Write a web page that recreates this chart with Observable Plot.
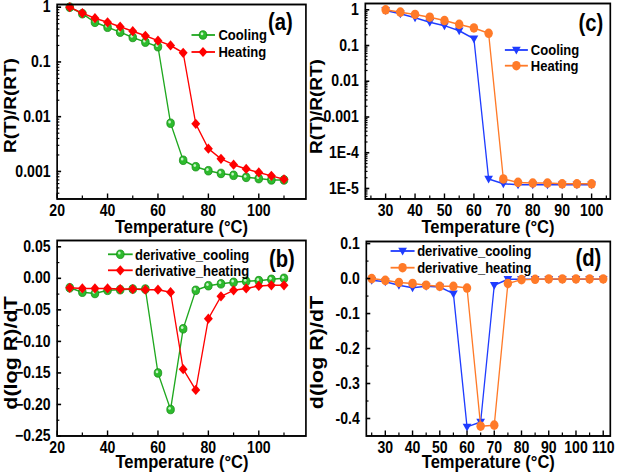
<!DOCTYPE html>
<html><head><meta charset="utf-8">
<script src="https://cdn.jsdelivr.net/npm/d3@7"></script>
<script src="https://cdn.jsdelivr.net/npm/@observablehq/plot@0.6"></script>
<style>
html,body{margin:0;padding:0;background:#fff;overflow:hidden;}
#wrap{position:relative;height:476px;transform-origin:0 0;}
.panel{position:absolute;}
</style></head><body><div id="wrap"></div>
<script>
// ---------- data ----------
const tempAB = [25,30,35,40,45,50,55,60,65,70,75,80,85,90,95,100,105,110];
const coolingA = [1.0,0.76,0.53,0.43,0.35,0.28,0.23,0.19,0.0076,0.0016,0.00122,0.00103,0.00092,0.00085,0.00078,0.00074,0.0007,0.0007];
const heatingA = [1.0,0.78,0.63,0.53,0.44,0.365,0.30,0.245,0.2,0.147,0.0074,0.0026,0.0017,0.00133,0.00111,0.00096,0.00083,0.00072];

const tempC = [30,35,40,45,50,55,60,65,70,75,80,85,90,95,100];
const coolingC = [0.95,0.77,0.6,0.45,0.36,0.26,0.155,1.85e-5,1.35e-5,1.28e-5,1.28e-5,1.28e-5,1.28e-5,1.28e-5,1.28e-5];
const heatingC = [1.0,0.86,0.74,0.62,0.5,0.39,0.31,0.22,1.85e-5,1.48e-5,1.42e-5,1.42e-5,1.35e-5,1.35e-5,1.35e-5];

const derivCoolingB = [-0.015,-0.022,-0.024,-0.019,-0.018,-0.017,-0.017,-0.150,-0.208,-0.080,-0.019,-0.0117,-0.0087,-0.0063,-0.0048,-0.0037,-0.0016,0.0];
const derivHeatingB = [-0.015,-0.016,-0.016,-0.016,-0.017,-0.017,-0.018,-0.018,-0.022,-0.144,-0.177,-0.064,-0.0286,-0.019,-0.016,-0.012,-0.011,-0.011];

const tempD = [25,30,35,40,45,50,55,60,65,70,75,80,85,90,95,100,105,110];
const derivCoolingD = [-0.005,-0.009,-0.019,-0.026,-0.022,-0.024,-0.043,-0.424,-0.41,-0.019,-0.002,-0.002,-0.002,-0.002,-0.002,-0.002,-0.002,-0.002];
const derivHeatingD = [0,-0.005,-0.011,-0.014,-0.019,-0.022,-0.022,-0.027,-0.422,-0.419,-0.014,-0.003,-0.002,-0.001,-0.001,-0.001,-0.001,-0.001];

// ---------- ticks ----------
const xTicksAB = [20,40,60,80,100];
const xMinorAB = [30,50,70,90,110];
const yTicksA = [1,0.1,0.01,0.001];
const yLabelsA = ["1","0.1","0.01","0.001"];
const yTicksB = [0.05,0,-0.05,-0.1,-0.15,-0.2,-0.25];
const yLabelsB = ["0.05","0.00","\u22120.05","\u22120.10","\u22120.15","\u22120.20","\u22120.25"];
const yMinorB = [0.025,-0.025,-0.075,-0.125,-0.175,-0.225];
const xTicksC = [30,40,50,60,70,80,90,100];
const xMinorC = [25,35,45,55,65,75,85,95,105];
const yTicksC = [1,0.1,0.01,0.001,1e-4,1e-5];
const yLabelsC = ["1","0.1","0.01","0.001","1E-4","1E-5"];
const xTicksD = [30,40,50,60,70,80,90,100,110];
const xMinorD = [25,35,45,55,65,75,85,95,105];
const yTicksD = [0.1,0,-0.1,-0.2,-0.3,-0.4];
const yLabelsD = ["0.1","0.0","-0.1","-0.2","-0.3","-0.4"];
const yMinorD = [0.05,-0.05,-0.15,-0.25,-0.35];

// ---------- styling ----------
const S = 0.88; // horizontal squeeze of the original figure
const FONT = "'Liberation Sans', Arial, sans-serif";
const GREEN = "#1fa81f", GREEN_FILL = "#2dbb2d", RED = "#ff0000", BLUE = "#1f3cff", ORANGE = "#ff7a28";
const triangleDown = {draw(ctx, size){ const r = Math.sqrt(size/Math.PI); ctx.moveTo(-1.15*r,-0.75*r); ctx.lineTo(1.15*r,-0.75*r); ctx.lineTo(0,1.05*r); ctx.closePath(); }};

function logMinor(lo, hi){
  const out = [];
  for (let k = Math.floor(Math.log10(lo)); k <= Math.ceil(Math.log10(hi)); k++)
    for (let m = 2; m <= 9; m++){ const v = m*Math.pow(10,k); if (v > lo && v < hi) out.push(v); }
  return out;
}

const wrap = document.getElementById("wrap");
wrap.style.width = (618/S) + "px";
wrap.style.transform = `scaleX(${S})`;

function panel(cfg){
  const [bx, by, bw, bh] = cfg.box;
  const [fl, fr, ft, fb] = cfg.frame;
  const ml = (fl-bx)/S, mr = (bx+bw-fr)/S, mt = ft-by, mb = by+bh-fb;
  const seriesMarks = [];
  cfg.series.forEach(s => {
    const rows = cfg.temps.map((t,i) => ({t, v: s.values[i]}));
    seriesMarks.push(Plot.line(rows, {x:"t", y:"v", stroke:s.color, strokeWidth:1.5}));
    seriesMarks.push(Plot.dot(rows, {x:"t", y:"v", symbol:s.symbol, r:s.r, fill:s.fill, stroke:s.stroke, strokeWidth:0.8}));
    if (s.highlight) seriesMarks.push(Plot.dot(rows, {x:"t", y:"v", r:1.5, fill:s.highlight, dx:-1.1, dy:-1.2}));
  });
  const txt = {fontWeight:"bold", fontFamily:FONT, textAnchor:"middle", lineAnchor:"middle"};
  const axTxt = {fontWeight:"bold", fontFamily:FONT};
  const marks = [
    ...seriesMarks,
    Plot.axisX({ticks:cfg.xTicks, tickSize:-5, tickPadding:11, tickFormat:d=>String(d), label:null, fontSize:16, ...axTxt, strokeWidth:1.6}),
    Plot.axisX({ticks:cfg.xMinor, tickSize:-3, tickFormat:()=>"", label:null, strokeWidth:1.4}),
    Plot.axisY({ticks:cfg.yTicks, tickSize:-5, tickPadding:12.5, tickFormat:d=>cfg.yLabels[cfg.yTicks.indexOf(d)], label:null, fontSize:16, ...axTxt, strokeWidth:1.6}),
    Plot.axisY({ticks:cfg.yMinor, tickSize:-3, tickFormat:()=>"", label:null, strokeWidth:1.2}),
    Plot.frame({stroke:"#000", strokeWidth:1.9}),
    Plot.text([cfg.xTitle], {text:d=>d, frameAnchor:"bottom", dx:(cfg.xTitlePos[0]-(fl+fr)/2)/S, dy:cfg.xTitlePos[1]-fb, fontSize:18.8, ...txt}),
    Plot.text([cfg.yTitle], {text:d=>d, frameAnchor:"left", dx:(cfg.yTitlePos[0]-fl)/S, dy:cfg.yTitlePos[1]-(ft+fb)/2, rotate:-90, fontSize:cfg.yTitleSize, ...txt}),
    Plot.text([cfg.tag], {text:d=>d, frameAnchor:"top-right", dx:(cfg.tagPos[0]-fr)/S, dy:cfg.tagPos[1]-ft, fontSize:23, ...txt})
  ];
  const chart = Plot.plot({
    width: bw/S, height: bh,
    marginLeft: ml, marginRight: mr, marginTop: mt, marginBottom: mb,
    x: {domain: cfg.xDomain},
    y: {type: cfg.yType, domain: cfg.yDomain},
    style: {fontFamily: FONT, background: "transparent", overflow: "visible", color: "#000"},
    marks
  });
  // legend
  const svg = d3.select(chart);
  const L = cfg.legend;
  cfg.series.forEach((s, i) => {
    const y = L.rows[i] - by;
    const g = svg.append("g");
    g.append("line").attr("x1",(L.x1-bx)/S).attr("x2",(L.x2-bx)/S).attr("y1",y).attr("y2",y)
      .attr("stroke",s.color).attr("stroke-width",1.8);
    g.append("path").attr("d", d3.symbol(s.symbol==="circle"?d3.symbolCircle:(s.symbol==="diamond2"?d3.symbolDiamond2:s.symbol), Math.PI*s.r*s.r)())
      .attr("transform",`translate(${(L.sx-bx)/S},${y})`).attr("fill",s.fill).attr("stroke",s.stroke||"none").attr("stroke-width",0.8);
    if (s.highlight) g.append("circle").attr("cx",(L.sx-bx)/S-1.1).attr("cy",y-1.2).attr("r",1.5).attr("fill",s.highlight);
    g.append("text").attr("x",(L.tx-bx)/S).attr("y",y).attr("dy","0.36em").attr("font-size",14.8)
      .attr("text-anchor","start")
      .attr("font-weight","bold").attr("font-family",FONT).attr("fill","#000").text(s.name);
  });
  const div = document.createElement("div");
  div.className = "panel";
  div.style.left = (bx/S) + "px"; div.style.top = by + "px";
  div.appendChild(chart);
  wrap.appendChild(div);
}

const minorA = logMinor(3.14e-4, 1.12);
const minorC = logMinor(5.08e-6, 1.5);

panel({
  box:[0,0,309,236], frame:[56.7,305.5,4,198.5],
  temps: tempAB, xDomain:[20,118.7], yType:"log", yDomain:[3.14e-4,1.12],
  xTicks:xTicksAB, xMinor:xMinorAB, yTicks:yTicksA, yLabels:yLabelsA, yMinor:minorA,
  series:[
    {name:"Cooling", values:coolingA, color:GREEN, symbol:"circle", r:4.3, fill:GREEN_FILL, stroke:"#128a12", highlight:"#c8f5c8"},
    {name:"Heating", values:heatingA, color:RED, symbol:"diamond2", r:4.6, fill:RED}
  ],
  legend:{x1:191.5, x2:215, sx:203, tx:218.5, rows:[35,52]},
  xTitle:"Temperature (°C)", xTitlePos:[181,226],
  yTitle:"R(T)/R(RT)", yTitlePos:[10,105], yTitleSize:19,
  tag:"(a)", tagPos:[280,22]
});

panel({
  box:[0,236,309,240], frame:[56.7,305.5,240,435.5],
  temps: tempAB, xDomain:[20,118.7], yType:"linear", yDomain:[-0.25,0.06],
  xTicks:xTicksAB, xMinor:xMinorAB, yTicks:yTicksB, yLabels:yLabelsB, yMinor:yMinorB,
  series:[
    {name:"derivative_cooling", values:derivCoolingB, color:GREEN, symbol:"circle", r:4.3, fill:GREEN_FILL, stroke:"#128a12", highlight:"#c8f5c8"},
    {name:"derivative_heating", values:derivHeatingB, color:RED, symbol:"diamond2", r:4.6, fill:RED}
  ],
  legend:{x1:108, x2:132.7, sx:120.3, tx:135, rows:[254.3,270.3]},
  xTitle:"Temperature (°C)", xTitlePos:[181.5,461],
  yTitle:"d(log R)/dT", yTitlePos:[10,352.5], yTitleSize:21.5,
  tag:"(b)", tagPos:[281.5,259]
});

panel({
  box:[309,0,309,236], frame:[365,610,3,198.5],
  temps: tempC, xDomain:[23.1,106.35], yType:"log", yDomain:[5.08e-6,1.5],
  xTicks:xTicksC, xMinor:xMinorC, yTicks:yTicksC, yLabels:yLabelsC, yMinor:minorC,
  series:[
    {name:"Cooling", values:coolingC, color:BLUE, symbol:triangleDown, r:4.3, fill:BLUE},
    {name:"Heating", values:heatingC, color:ORANGE, symbol:"circle", r:4.8, fill:ORANGE}
  ],
  legend:{x1:505, x2:528, sx:516.5, tx:531, rows:[50,65.7]},
  xTitle:"Temperature (°C)", xTitlePos:[487.7,226],
  yTitle:"R(T)/R(RT)", yTitlePos:[316,106], yTitleSize:19,
  tag:"(c)", tagPos:[590.5,23]
});

panel({
  box:[309,236,309,240], frame:[366,610,241,435.5],
  temps: tempD, xDomain:[23.03,112.6], yType:"linear", yDomain:[-0.45,0.106],
  xTicks:xTicksD, xMinor:xMinorD, yTicks:yTicksD, yLabels:yLabelsD, yMinor:yMinorD,
  series:[
    {name:"derivative_cooling", values:derivCoolingD, color:BLUE, symbol:triangleDown, r:4.3, fill:BLUE},
    {name:"derivative_heating", values:derivHeatingD, color:ORANGE, symbol:"circle", r:4.8, fill:ORANGE}
  ],
  legend:{x1:390.7, x2:414.7, sx:402.7, tx:417.3, rows:[251,267.7]},
  xTitle:"Temperature (°C)", xTitlePos:[488,461],
  yTitle:"d(log R)/dT", yTitlePos:[317,352], yTitleSize:21.5,
  tag:"(d)", tagPos:[588,257.7]
});
</script></body></html>
